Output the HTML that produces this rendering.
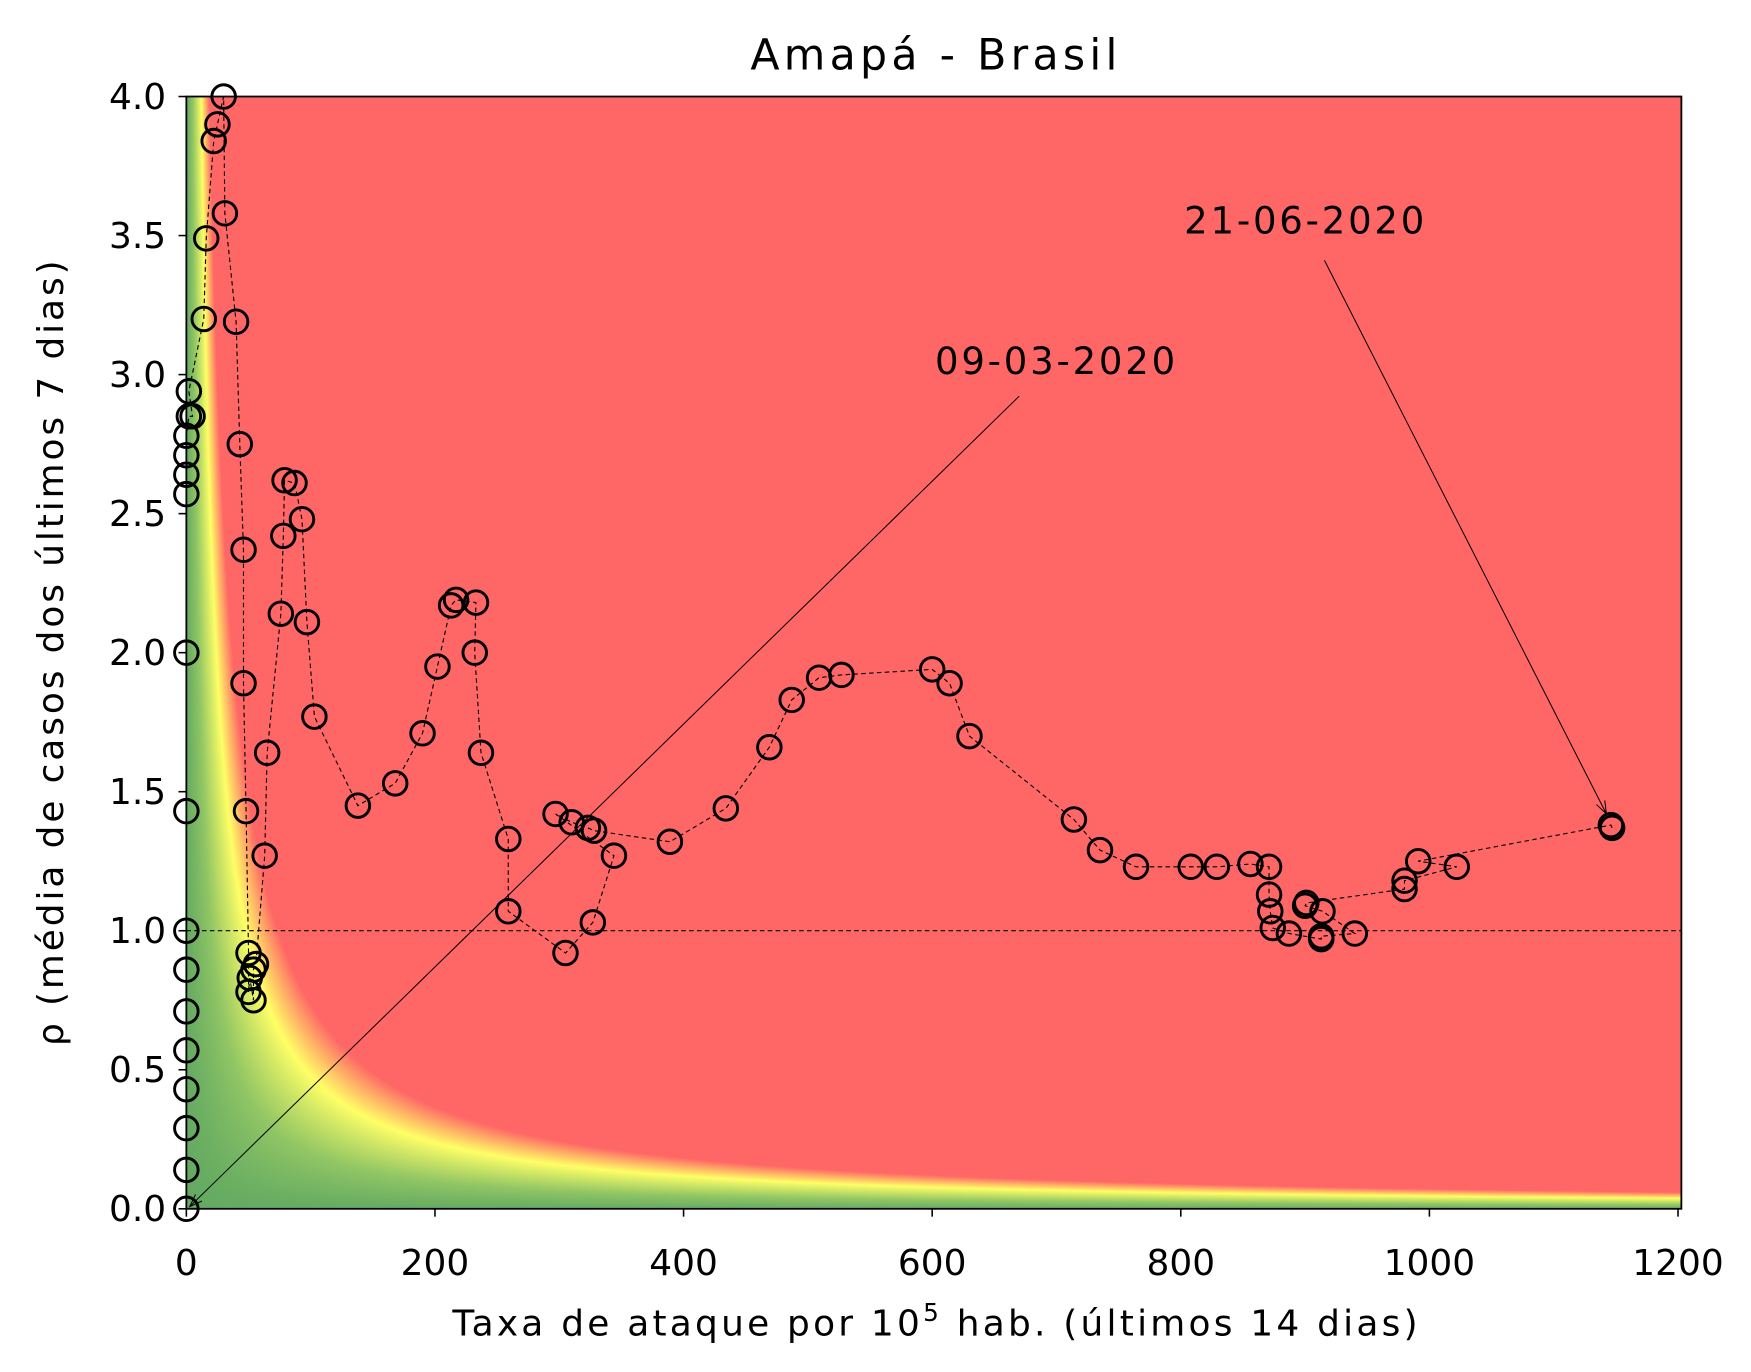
<!DOCTYPE html>
<html><head><meta charset="utf-8"><style>
html,body{margin:0;padding:0;background:#fff;}
#wrap{position:relative;width:1751px;height:1372px;overflow:hidden;}
#heat{position:absolute;left:186px;top:96px;}
svg{position:absolute;left:0;top:0;}
text{font-family:"DejaVu Sans","Liberation Sans",sans-serif;fill:#000;}
</style></head><body>
<div id="wrap">
<canvas id="heat" width="1496" height="1113"></canvas>
<svg id="svg" width="1751" height="1372" viewBox="0 0 1560 1222.4">
<g id="grid"></g>
<g id="series"></g>
<g id="ann"></g>
<g id="axes"></g>
</svg>
</div>
<script>
const xVals=[0,0,0,0,0,0,0,0,0,0,0,0,0,0,2,5,2,14,16,22,25,30,31,40,43,46,46,48,50,50,51,54,54,56,63,65,76,78,79,87,93,97,103,138,168,190,202,213,217,233,232,237,259,259,305,327,344,297,310,323,328,389,434,469,487,509,527,600,614,630,714,735,764,808,829,856,871,871,872,874,887,913,913,940,914,900,901,980,980,1022,991,1146,1147];
const yVals=[0,0.14,0.29,0.43,0.57,0.71,0.86,1.0,1.43,2.0,2.57,2.64,2.71,2.78,2.85,2.85,2.94,3.2,3.49,3.84,3.9,4.0,3.58,3.19,2.75,2.37,1.89,1.43,0.92,0.78,0.83,0.75,0.86,0.88,1.27,1.64,2.14,2.42,2.62,2.61,2.48,2.11,1.77,1.45,1.53,1.71,1.95,2.17,2.19,2.18,2.0,1.64,1.33,1.07,0.92,1.03,1.27,1.42,1.39,1.37,1.36,1.32,1.44,1.66,1.83,1.91,1.92,1.94,1.89,1.70,1.40,1.29,1.23,1.23,1.23,1.24,1.23,1.13,1.07,1.01,0.99,0.97,0.98,0.99,1.07,1.09,1.10,1.15,1.18,1.23,1.25,1.38,1.37];
const xTicks=[0,200,400,600,800,1000,1200];
const yTicks=[0,0.5,1.0,1.5,2.0,2.5,3.0,3.5,4.0];
const yTickLabels=["0.0","0.5","1.0","1.5","2.0","2.5","3.0","3.5","4.0"];

const L=166,R=1498,T=86,B=1077;
const sx=v=>166+v*(1495-166)/1200;
const sy=v=>B-v*(B-T)/4;
const NS="http://www.w3.org/2000/svg";
function mk(tag,attrs,parent){const e=document.createElementNS(NS,tag);for(const k in attrs)e.setAttribute(k,attrs[k]);parent.appendChild(e);return e;}

(function(){
 const c=document.getElementById('heat'),ctx=c.getContext('2d');
 const W=c.width,H=c.height,img=ctx.createImageData(W,H);
 const stops=[[0,[100,170,98]],[20,[145,198,100]],[48,[255,255,102]],[74,[255,102,102]],[1e9,[255,102,102]]];
 function col(p){for(let i=0;i<stops.length-1;i++){if(p<=stops[i+1][0]){const a=stops[i],b=stops[i+1];const t=(p-a[0])/(b[0]-a[0]);return a[1].map((v,j)=>v+(b[1][j]-v)*t);}}return stops[stops.length-1][1];}
 const xmax=(R-L)/((1495-166)/1200);
 for(let j=0;j<H;j++){const rho=4*(1-j/H);for(let i=0;i<W;i++){const x=xmax*i/W;const c2=col(x*rho);const k=(j*W+i)*4;img.data[k]=c2[0];img.data[k+1]=c2[1];img.data[k+2]=c2[2];img.data[k+3]=255;}}
 ctx.putImageData(img,0,0);
})();

const grid=document.getElementById('grid');
const ref=mk('line',{x1:L,x2:R,y1:sy(1),y2:sy(1),stroke:'#000','stroke-width':1,'stroke-dasharray':'4,3'},grid);



const series=document.getElementById('series');
let d='';
xVals.forEach((x,i)=>{d+=(i?'L':'M')+sx(x).toFixed(1)+','+sy(yVals[i]).toFixed(1);});
const path=mk('path',{d:d,fill:'none',stroke:'#000','stroke-width':1,'stroke-dasharray':'4,3'},series);


xVals.forEach((x,i)=>{
 const c=mk('circle',{cx:sx(x),cy:sy(yVals[i]),r:10.5,fill:'none',stroke:'#000','stroke-width':2.6},series);
 
 
});

const ann=document.getElementById('ann');
function arrow(x1,y1,x2,y2,name){
 const g=mk('g',{},ann);
 
 
 mk('line',{x1:x1,y1:y1,x2:x2,y2:y2,stroke:'#000','stroke-width':0.9},g);
 const a=Math.atan2(y2-y1,x2-x1),s=12,w=0.35;
 mk('path',{d:`M${x2-s*Math.cos(a-w)},${y2-s*Math.sin(a-w)} L${x2},${y2} L${x2-s*Math.cos(a+w)},${y2-s*Math.sin(a+w)}`,fill:'none',stroke:'#000','stroke-width':0.9},g);
}
arrow(908,353,sx(xVals[0])+3,sy(yVals[0])-2,'start-arrow');
arrow(1180,232,sx(xVals[xVals.length-2])-4,sy(yVals[yVals.length-2])-10,'end-arrow');
let t=mk('text',{x:833,y:333,'font-size':33,'textLength':214},ann);t.textContent='09-03-2020';

t=mk('text',{x:1055,y:208,'font-size':33,'textLength':214},ann);t.textContent='21-06-2020';


const axes=document.getElementById('axes');
const frame=mk('rect',{x:L,y:T,width:R-L,height:B-T,fill:'none',stroke:'#000','stroke-width':1.6},axes);


xTicks.forEach(v=>{
 mk('line',{x1:sx(v),x2:sx(v),y1:B,y2:B+7,stroke:'#000','stroke-width':1.4},axes);
 const tx=mk('text',{x:sx(v),y:B+59,'font-size':32,'text-anchor':'middle'},axes);
 tx.textContent=v;
 
 
});
yTicks.forEach((v,i)=>{
 mk('line',{x1:L-7,x2:L,y1:sy(v),y2:sy(v),stroke:'#000','stroke-width':1.4},axes);
 const ty=mk('text',{x:L-18,y:sy(v)+11,'font-size':32,'text-anchor':'end'},axes);
 ty.textContent=yTickLabels[i];
 
 
});
</script>
<svg width="1751" height="1372" viewBox="0 0 1560 1222.4" style="position:absolute;left:0;top:0;pointer-events:none">
<text x="832" y="62" font-size="38" text-anchor="middle" textLength="327">Amapá - Brasil</text>
<text x="403" y="1190" font-size="32" textLength="860">Taxa de ataque por 10<tspan dy="-13" font-size="22">5</tspan><tspan dy="13"> hab. (últimos 14 dias)</tspan></text>
<text transform="translate(56,582) rotate(-90)" font-size="32" text-anchor="middle" textLength="700">ρ (média de casos dos últimos 7 dias)</text>
</svg>
</body></html>
